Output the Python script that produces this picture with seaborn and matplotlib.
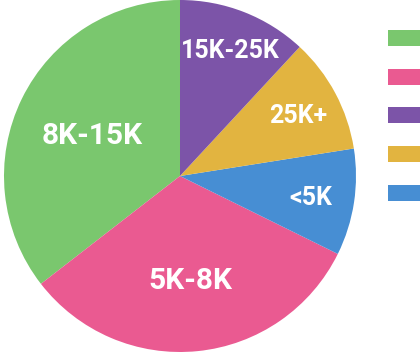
import numpy as np
import matplotlib
matplotlib.use("Agg")
import matplotlib.pyplot as plt
import seaborn as sns

# salary bands, counter-clockwise from 12 o'clock as drawn
bands = ["8K-15K", "5K-8K", "<5K", "25K+", "15K-25K"]
shares = [35.5, 32.2, 9.8, 10.6, 11.9]
colors = ["#7AC76E", "#EA5A91", "#478ED3", "#E2B440", "#7C54A8"]
# legend order as in the picture
legend_order = ["8K-15K", "5K-8K", "15K-25K", "25K+", "<5K"]

# label placement (fraction of radius) and font size per band
label_dist = [0.555, 0.58, 0.75, 0.76, 0.78]
label_size = [21.5, 21.5, 18, 18, 18]

sns.set_style("white")
plt.rcParams['font.family'] = ['Roboto', 'DejaVu Sans']

fig = plt.figure(figsize=(4.2, 3.52), dpi=100)
ax = fig.add_axes([3/420, 0, 354/420, 1])

pal = sns.color_palette(colors)
wedges, _ = ax.pie(shares, colors=pal, startangle=90, counterclock=True,
                   radius=1.0, labels=None,
                   wedgeprops=dict(linewidth=0))
ax.set_xlim(-1, 1)
ax.set_ylim(-1, 1)
ax.set_aspect("equal")

for w, name, d, fs in zip(wedges, bands, label_dist, label_size):
    mid = np.deg2rad((w.theta1 + w.theta2) / 2)
    ax.text(d*np.cos(mid), d*np.sin(mid), name, ha="center",
            va="center_baseline", color="white", fontsize=fs,
            fontweight="bold")

# legend shows only the colour keys
handles = [wedges[bands.index(n)] for n in legend_order]
fig.legend(handles, [""] * len(handles), loc="upper left",
           bbox_to_anchor=(388/420, 1 - 30/352), bbox_transform=fig.transFigure,
           frameon=False, fontsize=12, handlelength=2.2, handleheight=1.1,
           labelspacing=1.32, borderpad=0, borderaxespad=0, handletextpad=0)

fig.savefig("out.png", dpi=100)
